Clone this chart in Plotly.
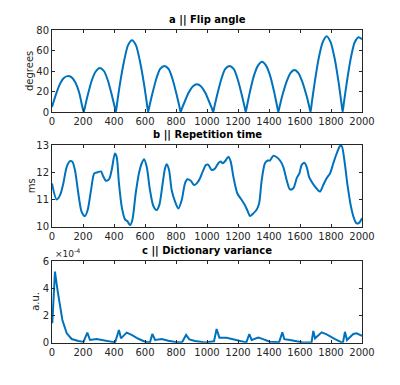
import plotly.graph_objects as go

# ---- data ----
# a || Flip angle (degrees)
fa_x = [0, 25, 50, 75, 100, 125, 150, 175, 197, 205,
        213, 230, 255, 280, 308, 335, 360, 385, 404, 412,
        420, 438, 464, 490, 516, 542, 568, 594, 612, 620,
        628, 646, 672, 698, 725, 752, 778, 804, 822, 830,
        838, 856, 882, 908, 935, 962, 988, 1014, 1032, 1040,
        1048, 1066, 1092, 1118, 1145, 1172, 1198, 1224, 1242, 1250,
        1258, 1276, 1302, 1328, 1355, 1382, 1408, 1434, 1452, 1460,
        1468, 1486, 1512, 1538, 1564, 1590, 1616, 1642, 1660, 1668,
        1676, 1694, 1720, 1746, 1772, 1798, 1824, 1850, 1867, 1875,
        1883, 1901, 1927, 1953, 1978, 2000]
fa_y = [5, 17, 27, 33, 35, 34, 29, 19, 4.2, 0,
        5.2, 16, 30, 39, 43, 40, 31, 17, 5.2, 0,
        8.5, 27, 49, 65, 70, 65, 49, 27, 8.5, 0,
        5.4, 17, 32, 42, 45, 42, 32, 17, 5.4, 0,
        3.3, 10, 19, 25, 27, 25, 19, 10, 3.3, 0,
        5.4, 17, 32, 42, 45, 42, 32, 17, 5.4, 0,
        5.9, 19, 35, 45, 49, 45, 35, 19, 5.9, 0,
        5.0, 16, 29, 38, 41, 38, 29, 16, 5.0, 0,
        9.0, 28, 52, 68, 74, 68, 52, 28, 9.0, 0,
        8.8, 28, 52, 68, 73, 71]

# b || Repetition time (ms)
tr_x = [0, 30, 52, 73, 95, 116, 131, 148, 170, 191, 213, 230, 252, 273, 295, 316,
        331, 348, 368, 385, 406, 417, 432, 450, 471, 488, 503, 518, 540, 561, 579,
        594, 611, 632, 654, 675, 692, 714, 729, 740, 755, 772, 794, 815, 837, 858,
        873, 895, 916, 934, 955, 972, 994, 1009, 1030, 1052, 1073, 1088, 1101, 1120,
        1138, 1153, 1170, 1196, 1224, 1245, 1267, 1277, 1299, 1320, 1336, 1353, 1374,
        1392, 1406, 1428, 1450, 1471, 1492, 1514, 1535, 1557, 1579, 1596, 1611, 1628,
        1643, 1658, 1675, 1697, 1718, 1729, 1750, 1772, 1794, 1815, 1837, 1858, 1869,
        1886, 1908, 1929, 1950, 1966, 1981, 2000]
tr_y = [11.59, 11.0, 11.16, 11.59, 12.2, 12.41, 12.39, 12.08, 11.22, 10.55, 10.39,
        10.61, 11.35, 11.96, 12.0, 12.03, 11.84, 11.69, 11.74, 12.08, 12.69, 12.57,
        11.59, 10.73, 10.27, 10.19, 10.06, 10.24, 11.22, 11.96, 12.33, 12.48, 12.2,
        11.35, 10.76, 10.61, 10.79, 11.59, 12.14, 12.29, 12.08, 11.35, 10.92, 10.67,
        10.98, 11.59, 11.74, 11.69, 11.53, 11.59, 11.78, 12.02, 12.27, 12.27, 12.08,
        12.14, 12.33, 12.39, 12.33, 12.43, 12.57, 12.39, 11.84, 11.22, 10.98, 10.79,
        10.51, 10.39, 10.49, 10.62, 10.85, 11.71, 12.33, 12.43, 12.43, 12.6, 12.55,
        12.43, 12.2, 11.71, 11.37, 11.41, 11.78, 11.96, 12.27, 12.35, 12.2, 11.84,
        11.65, 11.47, 11.33, 11.29, 11.53, 11.78, 11.96, 12.33, 12.69, 12.96, 12.96,
        12.45, 11.47, 10.73, 10.28, 10.12, 10.14, 10.31]

# c || Dictionary variance (a.u., in units of 1e-4)
dv_x = [2, 19, 37, 52, 67, 95, 127, 170, 203,
        228, 245, 288, 331, 385, 407,
        432, 445, 482, 514, 557, 600, 632,
        647, 665, 708, 751, 804, 840,
        865, 886, 923, 987, 1030, 1045,
        1062, 1080, 1127, 1170, 1224, 1254,
        1273, 1288, 1331, 1353, 1406, 1449, 1465,
        1486, 1499, 1535, 1568, 1611, 1665, 1675,
        1686, 1697, 1740, 1772, 1826, 1869, 1878,
        1890, 1903, 1944, 1966, 2000]
dv_y = [1.43, 5.22, 3.75, 2.53, 1.67, 0.69, 0.27, 0.12, 0.06,
        0.74, 0.2, 0.27, 0.2, 0.06, 0.02,
        0.93, 0.32, 0.74, 0.58, 0.29, 0.07, 0.02,
        0.64, 0.2, 0.27, 0.15, 0.03, 0.05,
        0.57, 0.24, 0.12, 0.02, 0.06, 0.1,
        1.0, 0.37, 0.37, 0.24, 0.07, 0.02,
        0.64, 0.2, 0.37, 0.3, 0.07, 0.02, 0.03,
        0.76, 0.26, 0.2, 0.15, 0.03, 0.02, 0.05,
        0.86, 0.32, 0.76, 0.61, 0.27, 0.02, 0.05,
        0.8, 0.2, 0.64, 0.69, 0.5]

x_ticks = [0, 200, 400, 600, 800, 1000, 1200, 1400, 1600, 1800, 2000]
titles = ["a || Flip angle", "b || Repetition time", "c || Dictionary variance"]
ylabels = ["degrees", "ms", "a.u."]

# ---- figure ----
LINE = "#0072BD"
AX = "#262626"
FONT = "DejaVu Sans"
W, H = 400, 385

fig = go.Figure()
fig.add_trace(go.Scatter(x=fa_x, y=fa_y, mode="lines", xaxis="x", yaxis="y",
                         line=dict(color=LINE, width=2, shape="spline", smoothing=0.7)))
fig.add_trace(go.Scatter(x=tr_x, y=tr_y, mode="lines", xaxis="x2", yaxis="y2",
                         line=dict(color=LINE, width=2, shape="spline", smoothing=0.8)))
fig.add_trace(go.Scatter(x=dv_x, y=dv_y, mode="lines", xaxis="x3", yaxis="y3",
                         line=dict(color=LINE, width=2)))

xdom = [52 / W, 362 / W]
ydoms = [[1 - 112 / H, 1 - 30 / H], [1 - 226.7 / H, 1 - 145 / H], [1 - 342.7 / H, 1 - 261 / H]]
yranges = [[0, 80], [10, 13], [0, 6]]
ytickvals = [[0, 20, 40, 60, 80], [10, 11, 12, 13], [0, 2, 4, 6]]

common_ax = dict(showline=True, linecolor=AX, linewidth=1, mirror="ticks",
                 ticks="inside", ticklen=3, tickcolor=AX, tickwidth=1,
                 showgrid=False, zeroline=False, automargin=False,
                 tickfont=dict(family=FONT, size=10, color=AX))

layout = dict(width=W, height=H, autosize=False, margin=dict(l=0, r=0, t=0, b=0, pad=0),
              paper_bgcolor="white", plot_bgcolor="white", showlegend=False,
              font=dict(family=FONT, color=AX), template="none")
annotations = []
for i in range(3):
    sfx = "" if i == 0 else str(i + 1)
    layout["xaxis" + sfx] = dict(common_ax, domain=xdom, range=[0, 2000],
                                 tickvals=x_ticks, anchor="y" + sfx)
    layout["yaxis" + sfx] = dict(common_ax, domain=ydoms[i], range=yranges[i],
                                 tickvals=ytickvals[i], anchor="x" + sfx)
    annotations.append(dict(text="<b>" + titles[i] + "</b>", xref="paper", yref="paper",
                            x=(xdom[0] + xdom[1]) / 2, y=ydoms[i][1] + 2 / H,
                            xanchor="center", yanchor="bottom", showarrow=False,
                            font=dict(family=FONT, size=10, color="black")))
label_x = [30, 31.5, 36]
for i in range(3):
    annotations.append(dict(text=ylabels[i], xref="paper", yref="paper",
                            x=label_x[i] / W, y=(ydoms[i][0] + ydoms[i][1]) / 2,
                            xanchor="center", yanchor="middle", textangle=-90,
                            showarrow=False, font=dict(family=FONT, size=10, color=AX)))
annotations.append(dict(text="×10<sup>-4</sup>", xref="paper", yref="paper",
                        x=53 / W, y=ydoms[2][1], xanchor="left", yanchor="bottom",
                        showarrow=False, font=dict(family=FONT, size=9, color=AX)))
layout["annotations"] = annotations
fig.update_layout(**layout)

fig.write_html("out.html", config={"displayModeBar": False},
               post_script="document.body.style.margin='0';document.body.style.overflow='hidden';")
